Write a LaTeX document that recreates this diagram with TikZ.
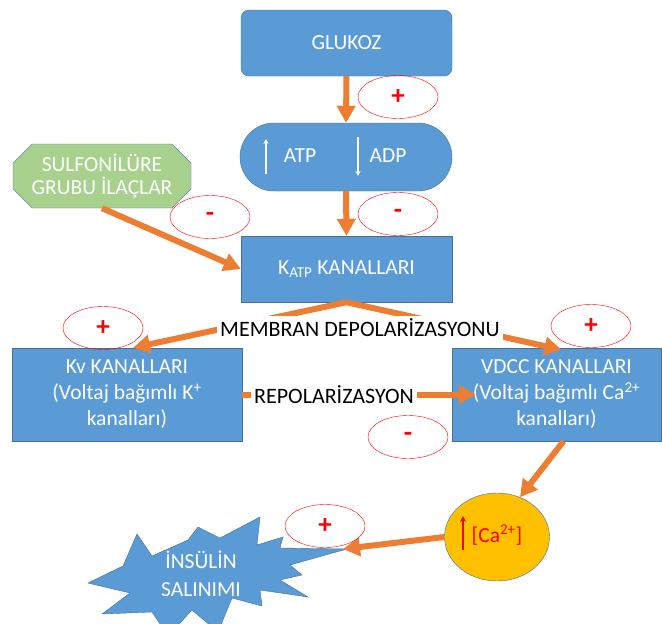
\documentclass[tikz,border=0pt]{standalone}
\usepackage{fontspec}
\setmainfont{Carlito}
\usepackage{tikz}
\usetikzlibrary{shapes.geometric,shapes.misc,arrows.meta}

\definecolor{boxblue}{HTML}{5B9BD5}
\definecolor{boxline}{HTML}{41719C}
\definecolor{arrorange}{HTML}{ED7D31}
\definecolor{druggreen}{HTML}{A9D18E}
\definecolor{cagold}{HTML}{FFC000}

\begin{document}
\begin{tikzpicture}[x=1pt, y=-1pt,
 font=\fontsize{21.5}{26}\selectfont,
 bluebox/.style={draw=boxline, fill=boxblue, text=white, align=center, inner sep=0pt,
   minimum width=211pt, minimum height=66pt},
 sign/.style={draw=red, ellipse, text=red, minimum width=80pt, minimum height=43pt,
   inner sep=0pt, font=\fontsize{27}{30}\selectfont\bfseries},
 flow/.style={draw=arrorange, line width=6pt, -{Triangle[length=17pt,width=18pt]}},
 tag/.style={fill=white, inner sep=3pt, font=\fontsize{22}{26}\selectfont}]

\useasboundingbox (0,0) rectangle (662,624);

% boxes
\node[bluebox, rounded corners=8pt] (glukoz) at (346.5,43) {GLUKOZ};
\node[bluebox, rounded corners=34pt, minimum width=212pt, minimum height=68pt] (atp) at (346,157) {};
\node[text=white] (atpword) at (300,156) {ATP};
\node[text=white] (adpword) at (388,156) {ADP};
\draw[white, line width=1.5pt, -{Stealth[length=5pt,width=5pt]}] (266,174) -- (266,139);
\draw[white, line width=1.5pt, -{Stealth[length=5pt,width=5pt]}] (358,137) -- (358,176);
\node[bluebox] (katp) at (346.5,269) {K\textsubscript{ATP} KANALLARI};
\node[bluebox, chamfered rectangle, chamfered rectangle xsep=16pt, fill=druggreen,
  minimum width=178pt, minimum height=64pt, font=\fontsize{21.5}{23}\selectfont]
  (sulfo) at (102,176) {SULFONİLÜRE\\GRUBU İLAÇLAR};
\node[bluebox, minimum width=230pt, minimum height=93pt] (kv) at (127,394.5)
  {Kv KANALLARI\\(Voltaj bağımlı K\textsuperscript{+}\\kanalları)};
\node[bluebox, minimum width=209pt, minimum height=93pt] (vdcc) at (556.5,394.5)
  {VDCC KANALLARI\\(Voltaj bağımlı Ca\textsuperscript{2+}\\kanalları)};

% calcium
\node[draw=boxline, fill=cagold, ellipse, minimum width=105pt, minimum height=88pt] (ca) at (497,537) {};
\node[text=red] (catext) at (497,535) {[Ca\textsuperscript{2+}]};
\draw[red, line width=2pt, -{Stealth[length=6pt,width=6pt]}] (463,550) -- (463,516);

% insulin
\filldraw[fill=boxblue, draw=boxline]
 (88,583) -- (123,566) -- (137,534) -- (152,556) -- (188,540) -- (198,527)
 -- (220,538) -- (260,517) -- (257,545) -- (283,537) -- (280,548) -- (347,549)
 -- (290,565) -- (302,575) -- (280,580) -- (308,597) -- (260,590) -- (262,606)
 -- (232,598) -- (218,632) -- (192,610) -- (168,636) -- (152,612) -- (102,614)
 -- (130,593) -- cycle;
\node[text=white, align=center, font=\fontsize{21.5}{28}\selectfont] (insulin) at (201,574) {İNSÜLİN\\SALINIMI};
\coordinate (insulintip) at (343,549);

% arrows
\draw[flow] (glukoz.south) -- (atp.north);
\draw[flow] (atp.south) -- (katp.north);
\draw[flow] (sulfo.south) -- (katp.west);
\draw[flow] (katp.south) -- ([xshift=6pt]kv.north);
\draw[flow] (katp.south) -- ([xshift=5pt,yshift=-2pt]vdcc.north);
\draw[flow] (kv.east) -- ([xshift=24pt]vdcc.west);
\draw[flow] ([xshift=7pt]vdcc.south) -- (ca.60);
\draw[flow] (ca.west) -- (insulintip);

\node[tag] (depol) at (360,328) {MEMBRAN DEPOLARİZASYONU};
\node[tag] (repol) at (334,395) {REPOLARİZASYON};

% signs
\node[sign] (signglc) at (398,97) {+};
\node[sign] (signatp) at (398,214) {-};
\node[sign] (signsulfo) at (210,217) {-};
\node[sign] (signkv) at (103,328) {+};
\node[sign] (signvdcc) at (591,326) {+};
\node[sign] (signrepol) at (408,437) {-};
\node[sign] (signins) at (325,526) {+};

\end{tikzpicture}
\end{document}
